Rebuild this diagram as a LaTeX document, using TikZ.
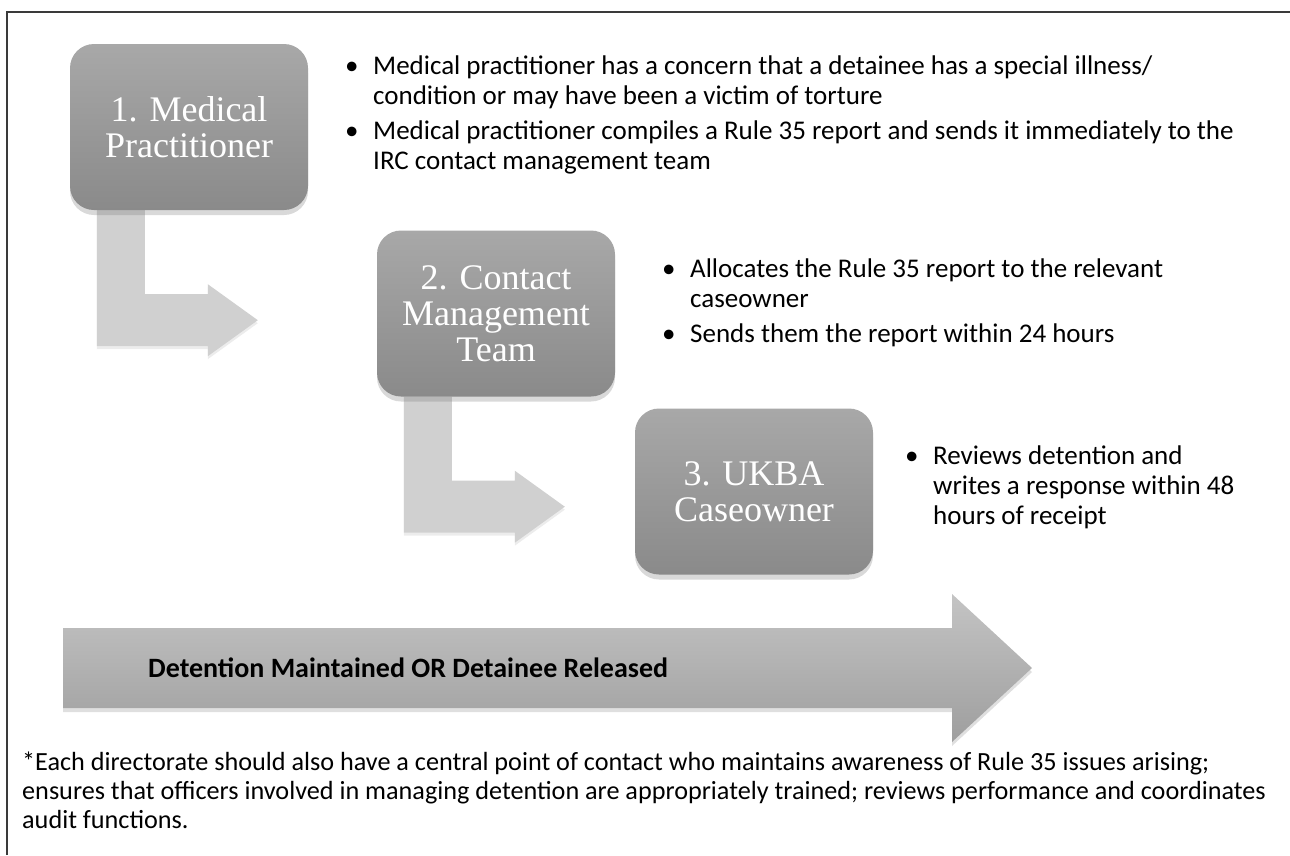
\documentclass[tikz,border=0pt]{standalone}
\usepackage{fontspec}
\setmainfont{Carlito}
\newfontfamily\stagefont{Liberation Serif}
\usetikzlibrary{calc,shadows,backgrounds}
\definecolor{boxtop}{HTML}{A8A8A8}
\definecolor{boxbot}{HTML}{8A8A8A}
\definecolor{elbowgray}{HTML}{D0D0D0}
\definecolor{bigtop}{HTML}{C4C4C4}
\definecolor{bigbot}{HTML}{9E9E9E}
\definecolor{framegray}{HTML}{3A3A3A}
\tikzset{
  stage/.style={rectangle, rounded corners=24pt, minimum width=238pt, minimum height=166pt,
    inner sep=0pt, top color=boxtop, bottom color=boxbot,
    drop shadow={opacity=0.3, shadow xshift=0pt, shadow yshift=-5pt},
    text=white, align=center, font={\stagefont\fontsize{36}{36}\selectfont}},
  note/.style={anchor=base west, inner sep=0pt, font={\fontsize{27}{30}\selectfont}},
  elbow/.style={fill=elbowgray, drop shadow={opacity=0.15, shadow xshift=0pt, shadow yshift=-3pt}},
}
% fat bent arrow hanging below a stage box
\newcommand{\elbowarrow}[1]{%
  \path[elbow] ($(#1.south west)+(27,0)$) -- ++(0,136) -- ++(111,0) -- ++(0,10)
    -- ++(50,-36) -- ++(-50,-36) -- ++(0,10) -- ++(-63,0) -- ($(#1.south west)+(75,0)$) -- cycle;}

\begin{document}
\begin{tikzpicture}[x=1pt,y=-1pt]
\useasboundingbox (0,0) rectangle (1290,855);
\draw[framegray, line width=1.5pt] (7,855) -- (7,12) -- (1290,12);

\node[stage] (medical) at (189,127) {1. Medical\\Practitioner};
\node[stage] (contact) at (496,313.5) {2. Contact\\Management\\Team};
\node[stage] (ukba) at (754,491.5) {3. UKBA\\Caseowner};

\begin{scope}[on background layer]
\elbowarrow{medical}
\elbowarrow{contact}
\end{scope}

\node[note] (medicalnote) at (345,74) {\begin{tabular}[t]{@{}p{28pt}@{}l@{}}
\textbullet & Medical practitioner has a concern that a detainee has a special illness/\\
 & condition or may have been a victim of torture\\[5pt]
\textbullet & Medical practitioner compiles a Rule 35 report and sends it immediately to the\\
 & IRC contact management team
\end{tabular}};
\node[note] (contactnote) at (662,277) {\begin{tabular}[t]{@{}p{28pt}@{}l@{}}
\textbullet & Allocates the Rule 35 report to the relevant\\
 & caseowner\\[5pt]
\textbullet & Sends them the report within 24 hours
\end{tabular}};
\node[note] (ukbanote) at (905,464) {\begin{tabular}[t]{@{}p{28pt}@{}l@{}}
\textbullet & Reviews detention and\\
 & writes a response within 48\\
 & hours of receipt
\end{tabular}};

% outcome arrow
\shade[top color=bigtop, bottom color=bigbot, drop shadow={opacity=0.25, shadow xshift=0pt, shadow yshift=-4pt}]
  (63,628) -- (952,628) -- (952,594) -- (1032,668) -- (952,742) -- (952,708) -- (63,708) -- cycle;
\node[note, font={\bfseries\fontsize{28}{30}\selectfont}] (outcome) at (148,677) {Detention Maintained OR Detainee Released};

\node[note, font={\fontsize{26.2}{29}\selectfont}] (remark) at (22,770) {\begin{tabular}[t]{@{}l@{}}
*Each directorate should also have a central point of contact who maintains awareness of Rule 35 issues arising;\\
ensures that officers involved in managing detention are appropriately trained; reviews performance and coordinates\\
audit functions.
\end{tabular}};
\end{tikzpicture}
\end{document}
